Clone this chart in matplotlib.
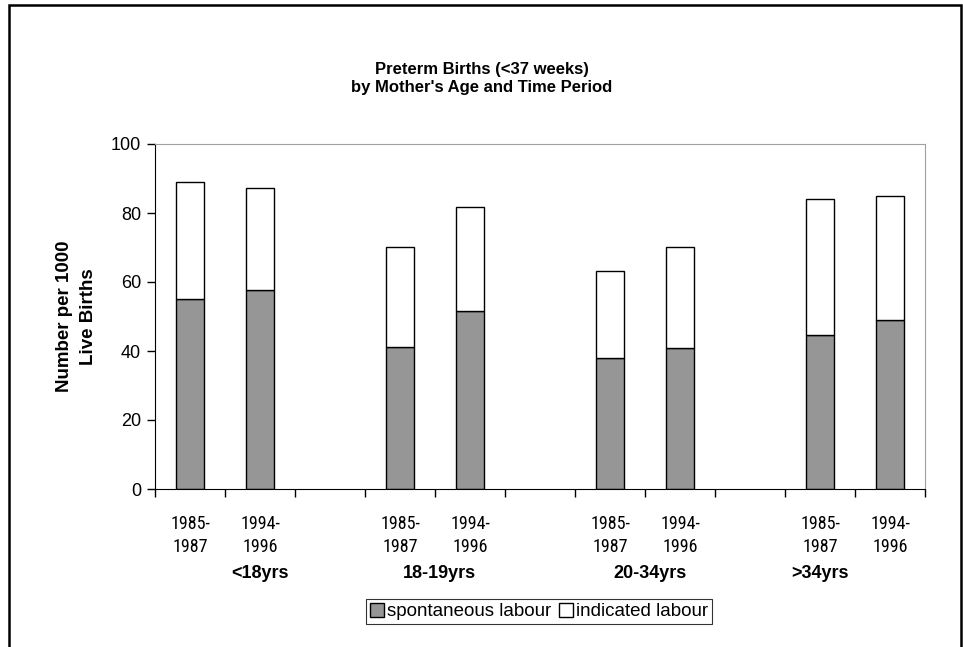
import matplotlib
matplotlib.use('Agg')
import matplotlib.pyplot as plt
import matplotlib.patches as mpatches
import matplotlib.transforms as mtransforms
from matplotlib import font_manager
import numpy as np

plt.rcParams['font.family'] = ['Liberation Sans', 'DejaVu Sans']

# data
periods = ['1985-\n1987', '1994-\n1996']
age_groups = ['<18yrs', '18-19yrs', '20-34yrs', '>34yrs']
spontaneous = [55.0, 57.7, 41.1, 51.7, 38.0, 41.0, 44.7, 48.9]
total = [88.9, 87.3, 70.1, 81.8, 63.1, 70.1, 84.2, 84.9]
indicated = [t - s for t, s in zip(total, spontaneous)]

# bars sit in 2 of every 3 slots (empty slot between age groups)
xpos = np.array([g * 3 + p for g in range(len(age_groups)) for p in range(len(periods))])
xlabels = [periods[p] for g in range(len(age_groups)) for p in range(len(periods))]
group_x = [1.0, 3.57, 6.57, 9.0]   # where the age group labels sit

# narrow font for the period labels if one is around
names = {f.name for f in font_manager.fontManager.ttflist}
narrow = None
for cand in ['Liberation Sans Narrow', 'Arial Narrow', 'DejaVu Sans Condensed', 'Roboto Condensed']:
    if cand in names:
        narrow = cand
        break
if narrow is None:
    narrow_fam, narrow_size = ['Liberation Sans'], 11
else:
    narrow_fam, narrow_size = [narrow, 'Liberation Sans'], 13

fig = plt.figure(figsize=(9.63, 6.47), dpi=100)
ax = fig.add_axes([155/963, 1-489/647, 770/963, 345/647])

gray = '#969696'
ax.bar(xpos, spontaneous, width=0.4, color=gray, edgecolor='black', linewidth=1.0,
       label='spontaneous labour')
ax.bar(xpos, indicated, width=0.4, bottom=spontaneous, color='white', edgecolor='black',
       linewidth=1.0, label='indicated labour')

ax.set_xlim(-0.5, 10.5)
ax.set_ylim(0, 100)
ax.set_yticks(np.arange(0, 101, 20))
ax.tick_params(axis='y', direction='out', length=6, width=1, labelsize=13, pad=4)

ax.set_xticks(np.arange(-0.5, 10.6, 1))
ax.set_xticklabels([])
ax.tick_params(axis='x', which='major', direction='out', length=6, width=1)
ax.set_xticks(xpos, minor=True)
ax.set_xticklabels(xlabels, minor=True, family=narrow_fam,
                   fontsize=narrow_size, linespacing=1.35)
ax.tick_params(axis='x', which='minor', length=0, pad=19)

for s in ['top', 'right']:
    ax.spines[s].set_color('#a0a0a0')
for s in ['left', 'bottom']:
    ax.spines[s].set_color('black')

trans = mtransforms.blended_transform_factory(ax.transData, ax.transAxes)
for gx, name in zip(group_x, age_groups):
    ax.text(gx, -0.245, name, transform=trans, ha='center', va='center',
            fontsize=13, fontweight='bold')

ax.set_ylabel("Number per 1000\nLive Births", fontsize=13.5, fontweight='bold', labelpad=10,
              linespacing=1.55)

fig.text(0.5, 1-78.5/647, "Preterm Births (<37 weeks)\nby Mother's Age and Time Period",
         ha='center', va='center', fontsize=12, fontweight='bold', linespacing=1.25)

leg = fig.legend(loc='center', bbox_to_anchor=(539/963, 1-611.5/647), ncol=2,
                 fontsize=13.5, frameon=True, fancybox=False, handlelength=0.75,
                 handleheight=0.75, handletextpad=0.15, columnspacing=0.4,
                 borderpad=0.2, borderaxespad=0)
leg.get_frame().set_edgecolor('black')
leg.get_frame().set_linewidth(0.8)

# outer chart frame
frame = mpatches.Rectangle((9/963, -0.05), (961-9)/963, 1.05-5/647, transform=fig.transFigure,
                           fill=False, edgecolor='black', linewidth=1.8, clip_on=False)
fig.patches.append(frame)

fig.savefig('out.png', dpi=100)
